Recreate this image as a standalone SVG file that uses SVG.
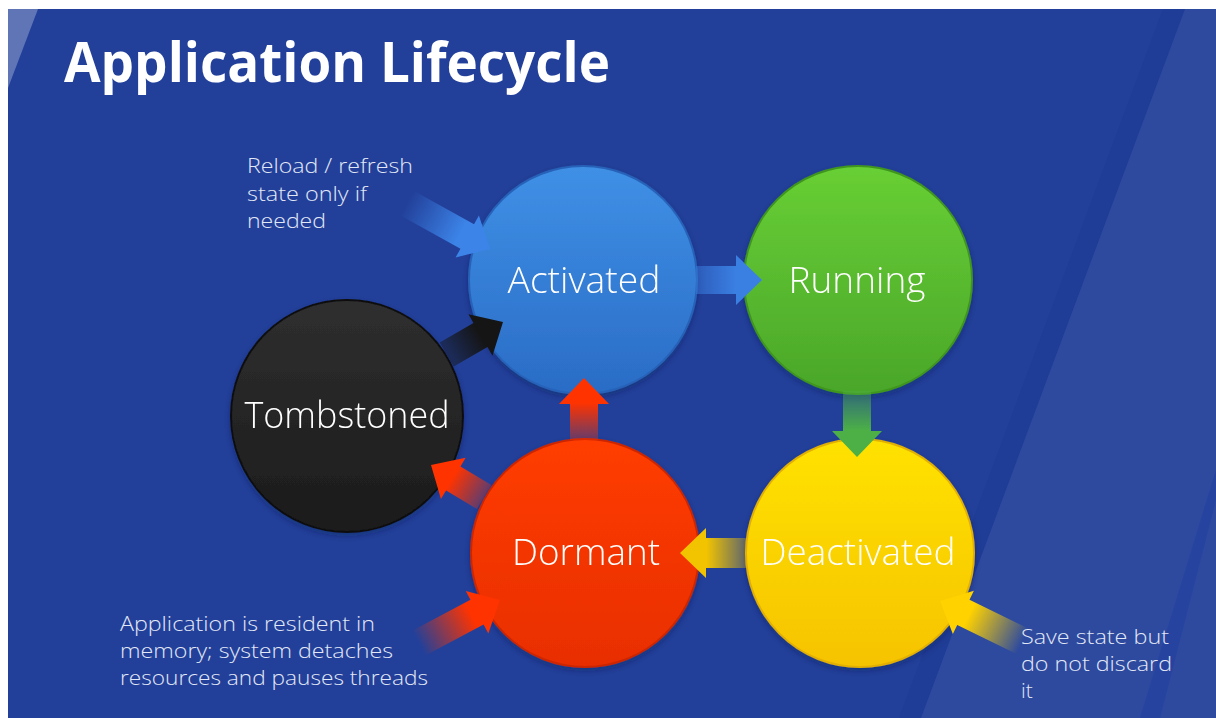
<svg xmlns="http://www.w3.org/2000/svg" width="1216" height="718" viewBox="0 0 1216 718">
  <defs>
    <style>
      .title { font-family: "Open Sans", "Liberation Sans", sans-serif; font-weight: 700; font-size: 56px; fill: #ffffff; }
      .label { font-family: "Open Sans", "Liberation Sans", sans-serif; font-weight: 300; font-size: 37px; fill: #ffffff; text-anchor: middle; }
      .note { font-family: "Open Sans", "Liberation Sans", sans-serif; font-weight: 300; font-size: 21px; fill: #e2e8f6; }
      .rim { stroke-width: 2; }
    </style>
    <!-- sphere fills: lighter at the top, deeper toward the bottom -->
    <linearGradient id="gBlue" x1="0" y1="0" x2="0" y2="1">
      <stop offset="0" stop-color="#3f90e6"/>
      <stop offset="1" stop-color="#2a6cc6"/>
    </linearGradient>
    <linearGradient id="gGreen" x1="0" y1="0" x2="0" y2="1">
      <stop offset="0" stop-color="#68cf34"/>
      <stop offset="1" stop-color="#4aa62a"/>
    </linearGradient>
    <linearGradient id="gYellow" x1="0" y1="0" x2="0" y2="1">
      <stop offset="0" stop-color="#ffe200"/>
      <stop offset="1" stop-color="#f6c300"/>
    </linearGradient>
    <linearGradient id="gRed" x1="0" y1="0" x2="0" y2="1">
      <stop offset="0" stop-color="#ff3d00"/>
      <stop offset="1" stop-color="#e82e00"/>
    </linearGradient>
    <linearGradient id="gBlack" x1="0" y1="0" x2="0" y2="1">
      <stop offset="0" stop-color="#2f2f2f"/>
      <stop offset="1" stop-color="#1b1b1b"/>
    </linearGradient>
    <filter id="shadow" x="-20%" y="-20%" width="140%" height="140%">
      <feDropShadow dx="0" dy="3" stdDeviation="3" flood-color="#0a1540" flood-opacity="0.35"/>
    </filter>
    <!-- arrow fills run along local +x: faded tail, solid head -->
    <linearGradient id="aBlue" x1="0" y1="0" x2="1" y2="0">
      <stop offset="0" stop-color="#3a7fe2" stop-opacity="0.45"/>
      <stop offset="0.6" stop-color="#3a7fe2" stop-opacity="1"/>
    </linearGradient>
    <linearGradient id="aGreen" x1="0" y1="0" x2="1" y2="0">
      <stop offset="0" stop-color="#4cb046" stop-opacity="0.35"/>
      <stop offset="0.6" stop-color="#4cb046" stop-opacity="1"/>
    </linearGradient>
    <linearGradient id="aYellow" x1="0" y1="0" x2="1" y2="0">
      <stop offset="0" stop-color="#f2c400" stop-opacity="0.3"/>
      <stop offset="0.6" stop-color="#f2c400" stop-opacity="1"/>
    </linearGradient>
    <linearGradient id="aRed" x1="0" y1="0" x2="1" y2="0">
      <stop offset="0" stop-color="#ff3300" stop-opacity="0.3"/>
      <stop offset="0.6" stop-color="#ff3300" stop-opacity="1"/>
    </linearGradient>
    <linearGradient id="aBlack" x1="0" y1="0" x2="1" y2="0">
      <stop offset="0" stop-color="#151515" stop-opacity="0.45"/>
      <stop offset="0.6" stop-color="#151515" stop-opacity="1"/>
    </linearGradient>
    <linearGradient id="nBlue" x1="0" y1="0" x2="1" y2="0">
      <stop offset="0" stop-color="#3c84e8" stop-opacity="0"/>
      <stop offset="0.65" stop-color="#3c84e8" stop-opacity="1"/>
    </linearGradient>
    <linearGradient id="nRed" x1="0" y1="0" x2="1" y2="0">
      <stop offset="0" stop-color="#ff3300" stop-opacity="0"/>
      <stop offset="0.65" stop-color="#ff3300" stop-opacity="1"/>
    </linearGradient>
    <linearGradient id="nYellow" x1="0" y1="0" x2="1" y2="0">
      <stop offset="0" stop-color="#ffd200" stop-opacity="0"/>
      <stop offset="0.65" stop-color="#ffd200" stop-opacity="1"/>
    </linearGradient>
  </defs>

  <!-- page and slide background -->
  <rect x="0" y="0" width="1216" height="718" fill="#ffffff"/>
  <rect x="8" y="9" width="1208" height="709" fill="#22409a"/>
  <polygon points="8,9 38,9 8,88" fill="#ffffff" fill-opacity="0.28"/>
  <polygon points="1163,9 1185,9 921,718 899,718" fill="#1f3c96"/>
  <polygon points="1185,9 1216,9 1216,718 921,718" fill="#2d4a9f"/>
  <polygon points="1216,470 1216,500 1160,718 1140,718" fill="#2743a0"/>

  <text class="title" x="64" y="82" textLength="546" lengthAdjust="spacingAndGlyphs">Application Lifecycle</text>

  <!-- states -->
  <g id="activated" filter="url(#shadow)">
    <circle cx="583" cy="280" r="114" fill="url(#gBlue)" stroke="#2862b8" class="rim"/>
    <text class="label" x="584" y="293" textLength="153" lengthAdjust="spacingAndGlyphs">Activated</text>
  </g>
  <g id="running" filter="url(#shadow)">
    <circle cx="858" cy="280" r="114" fill="url(#gGreen)" stroke="#3f951f" class="rim"/>
    <text class="label" x="857" y="293" textLength="137" lengthAdjust="spacingAndGlyphs">Running</text>
  </g>
  <g id="deactivated" filter="url(#shadow)">
    <circle cx="860" cy="553" r="114" fill="url(#gYellow)" stroke="#e2b000" class="rim"/>
    <text class="label" x="858" y="565" textLength="195" lengthAdjust="spacingAndGlyphs">Deactivated</text>
  </g>
  <g id="dormant" filter="url(#shadow)">
    <circle cx="585" cy="553" r="114" fill="url(#gRed)" stroke="#cc2600" class="rim"/>
    <text class="label" x="586" y="565" textLength="148" lengthAdjust="spacingAndGlyphs">Dormant</text>
  </g>
  <g id="tombstoned" filter="url(#shadow)">
    <circle cx="347" cy="416" r="116" fill="url(#gBlack)" stroke="#111111" class="rim"/>
    <text class="label" x="347" y="428" textLength="205" lengthAdjust="spacingAndGlyphs">Tombstoned</text>
  </g>

  <!-- transitions and note arrows: each drawn tip-at-origin pointing +x -->
  <g id="connectors">
    <polygon transform="translate(762,280)" fill="url(#aBlue)" points="-66,-14 -26,-14 -26,-25 0,0 -26,25 -26,14 -66,14"/>
    <polygon transform="translate(857,457) rotate(90)" fill="url(#aGreen)" points="-66,-14 -26,-14 -26,-25 0,0 -26,25 -26,14 -66,14"/>
    <polygon transform="translate(680,553) rotate(180)" fill="url(#aYellow)" points="-66,-15 -26,-15 -26,-25 0,0 -26,25 -26,15 -66,15"/>
    <polygon transform="translate(584,378) rotate(-90)" fill="url(#aRed)" points="-62,-14 -26,-14 -26,-25 0,0 -26,25 -26,14 -62,14"/>
    <polygon transform="translate(431,465) rotate(211)" fill="url(#aRed)" points="-62,-14 -26,-14 -26,-24 0,0 -26,24 -26,14 -62,14"/>
    <polygon transform="translate(503,322) rotate(-30)" fill="url(#aBlack)" points="-65,-14 -26,-14 -26,-24 0,0 -26,24 -26,14 -65,14"/>
    <polygon transform="translate(490,249) rotate(29)" fill="url(#nBlue)" points="-95,-14 -26,-14 -26,-24 0,0 -26,24 -26,14 -95,14"/>
    <polygon transform="translate(500,600) rotate(-28)" fill="url(#nRed)" points="-92,-14 -26,-14 -26,-24 0,0 -26,24 -26,14 -92,14"/>
    <polygon transform="translate(940,601) rotate(206)" fill="url(#nYellow)" points="-92,-14 -26,-14 -26,-24 0,0 -26,24 -26,14 -92,14"/>
  </g>

  <!-- notes -->
  <g id="notes">
    <text class="note" x="247" y="173" textLength="166" lengthAdjust="spacingAndGlyphs">Reload / refresh</text>
    <text class="note" x="247" y="201" textLength="120" lengthAdjust="spacingAndGlyphs">state only if</text>
    <text class="note" x="247" y="228" textLength="79" lengthAdjust="spacingAndGlyphs">needed</text>
    <text class="note" x="120" y="631" textLength="255" lengthAdjust="spacingAndGlyphs">Application is resident in</text>
    <text class="note" x="120" y="658" textLength="273" lengthAdjust="spacingAndGlyphs">memory; system detaches</text>
    <text class="note" x="120" y="685" textLength="308" lengthAdjust="spacingAndGlyphs">resources and pauses threads</text>
    <text class="note" x="1021" y="644" textLength="148" lengthAdjust="spacingAndGlyphs">Save state but</text>
    <text class="note" x="1021" y="671" textLength="151" lengthAdjust="spacingAndGlyphs">do not discard</text>
    <text class="note" x="1021" y="698">it</text>
  </g>
</svg>
